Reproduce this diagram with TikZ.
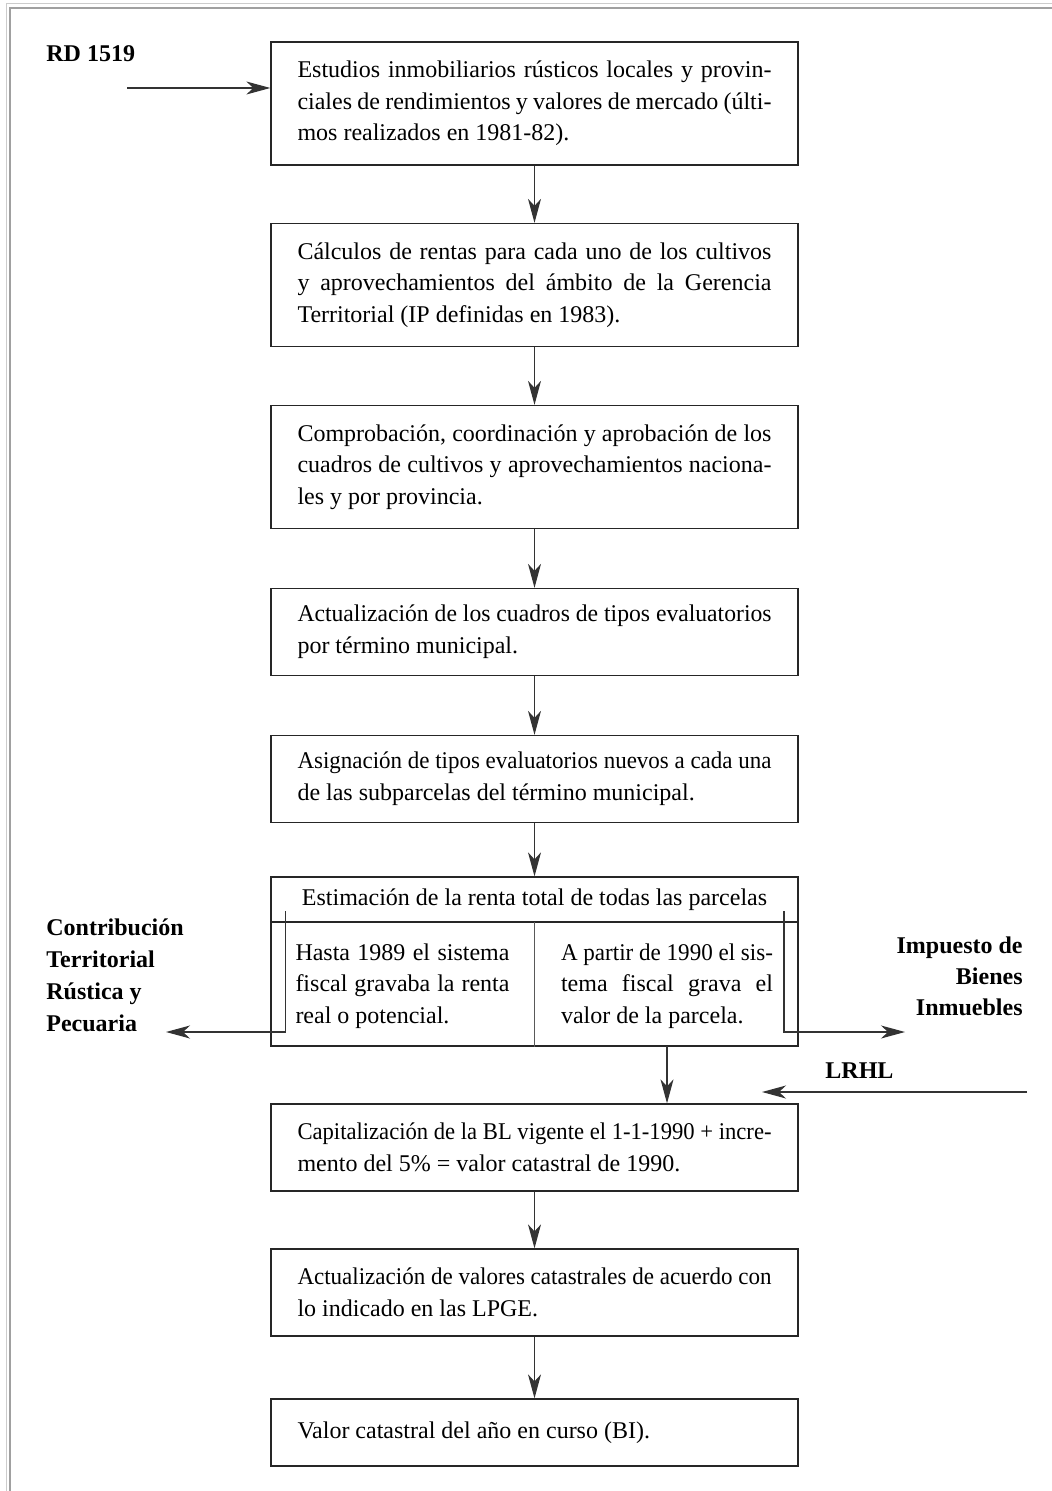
\documentclass[tikz,border=0pt]{standalone}
\usepackage{fontspec}
\usepackage{graphicx}
\setmainfont{Liberation Serif}
\usetikzlibrary{arrows.meta}
\newcommand\boxfont{\fontsize{12}{15.85}\selectfont}
\newsavebox\linebox
\newcommand\jl[2][237pt]{\leavevmode\sbox\linebox{#2}%
  \ifdim\wd\linebox>\dimexpr#1+3pt\relax\resizebox{#1}{\height}{\usebox\linebox}%
  \else\hbox to #1{#2}\fi}
\definecolor{framelight}{HTML}{CCCCCC}
\definecolor{framedark}{HTML}{A0A0A0}
\begin{document}
\begin{tikzpicture}[x=0.5pt,y=-0.5pt,
  stepbox/.style={draw=black!85, line width=0.65pt, minimum width=263.5pt,
    text width=237pt, align=left, inner sep=0pt, font=\boxfont,
    execute at begin node={\spaceskip=0pt\xspaceskip=0pt}},
  three/.style={minimum height=61.5pt},
  two/.style={minimum height=43.5pt},
  one/.style={minimum height=33.5pt},
  arr/.style={-{Stealth[length=12pt,width=6.5pt,inset=3.5pt]}, line width=0.6pt, draw=black!80},
  lbl/.style={font=\boxfont\bfseries, inner sep=0pt,
    execute at begin node={\spaceskip=0pt\xspaceskip=0pt}},
  sub/.style={font=\boxfont, inner sep=0pt, align=left,
    execute at begin node={\spaceskip=0pt\xspaceskip=0pt}}]
\useasboundingbox (0,0) rectangle (1052,1491);
% frame
\draw[framelight, line width=0.5pt] (6,1491) -- (6,4) -- (1052,4);
\draw[framedark, line width=1pt] (10,1491) -- (10,8) -- (1052,8);

\node[stepbox, three] (b1) at (534.5,103.5) {\jl{Estudios inmobiliarios rústicos locales y provin-}\\
\jl{ciales de rendimientos y valores de mercado (últi-}\\
mos realizados en 1981-82).};
\node[stepbox, three] (b2) at (534.5,285) {\jl{Cálculos de rentas para cada uno de los cultivos}\\
\jl{y aprovechamientos del ámbito de la Gerencia}\\
Territorial (IP definidas en 1983).};
\node[stepbox, three] (b3) at (534.5,467) {\jl{Comprobación, coordinación y aprobación de los}\\
\jl{cuadros de cultivos y aprovechamientos naciona-}\\
les y por provincia.};
\node[stepbox, two] (b4) at (534.5,632) {\jl{Actualización de los cuadros de tipos evaluatorios}\\
por término municipal.};
\node[stepbox, two] (b5) at (534.5,779) {\jl{Asignación de tipos evaluatorios nuevos a cada una}\\
de las subparcelas del término municipal.};
\node[stepbox, minimum height=84.5pt] (b6) at (534.5,961.5) {};
\node[stepbox, two] (b7) at (534.5,1147.5) {\jl{Capitalización de la BL vigente el 1-1-1990 + incre-}\\
mento del 5\% = valor catastral de 1990.};
\node[stepbox, two] (b8) at (534.5,1292.5) {\jl{Actualización de valores catastrales de acuerdo con}\\
lo indicado en las LPGE.};
\node[stepbox, one] (b9) at (534.5,1432.5) {Valor catastral del año en curso (BI).};

% split box internals
\coordinate (hdrL) at (271,922);
\coordinate (hdrR) at (798,922);
\draw[black!85, line width=0.65pt] (hdrL) -- (hdrR);
\draw[black!65, line width=0.65pt] (b6.south) -- (b6.south |- hdrL);
\node[font=\boxfont, inner sep=0pt] (hdr) at (534.5,900) {Estimación de la renta total de todas las parcelas};
\node[sub, text width=107pt] (tl) at (402.5,986) {\jl[107pt]{Hasta 1989 el sistema}\\
\jl[107pt]{fiscal gravaba la renta}\\
real o potencial.};
\node[sub, text width=106pt] (tr) at (667,986) {\jl[106pt]{A partir de 1990 el sis-}\\
\jl[106pt]{tema fiscal grava el}\\
valor de la parcela.};

% labels
\node[lbl, anchor=base west] (rd) at (46,62) {RD 1519};
\node[lbl, anchor=north west, align=left, font=\fontsize{12}{16}\selectfont\bfseries] (ctrp) at (46,918) {Contribución\\Territorial\\Rústica y\\Pecuaria};
\node[lbl, anchor=north east, align=right, font=\fontsize{12}{15.5}\selectfont\bfseries] (ibi) at (1023,936.5) {Impuesto de\\Bienes\\Inmuebles};
\node[lbl, anchor=base west] (lrhl) at (825,1078) {LRHL};

% connectors
\coordinate (rdstart) at (127,88);
\draw[arr] (rdstart) -- (rdstart -| b1.west);
\draw[arr] (b1) -- (b2);
\draw[arr] (b2) -- (b3);
\draw[arr] (b3) -- (b4);
\draw[arr] (b4) -- (b5);
\draw[arr] (b5) -- (b6);
\coordinate (b6r) at (667,1046);
\draw[arr] (b6r) -- (b6r |- b7.north);
\draw[arr] (b7) -- (b8);
\draw[arr] (b8) -- (b9);
\coordinate (hookL) at (285.7,911);
\coordinate (ctrEnd) at (166,1032);
\draw[arr] (hookL) |- (ctrEnd);
\coordinate (hookR) at (784,911);
\coordinate (ibiEnd) at (905,1032);
\draw[arr] (hookR) |- (ibiEnd);
\coordinate (lrStart) at (1027,1092);
\coordinate (lrEnd) at (762,1092);
\draw[arr] (lrStart) -- (lrEnd);
\end{tikzpicture}
\end{document}
